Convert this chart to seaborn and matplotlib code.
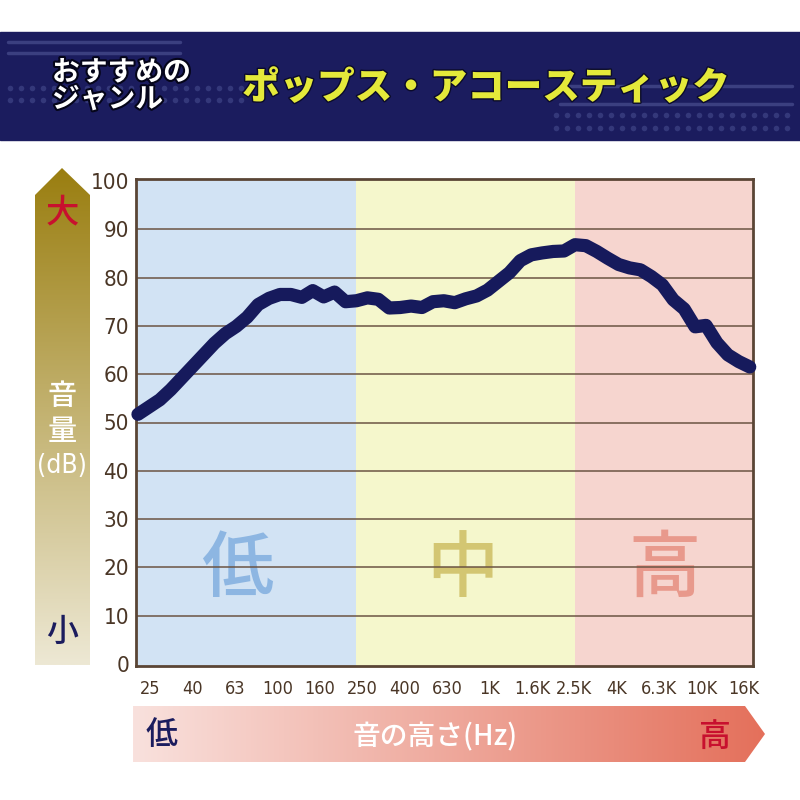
import numpy as np
import matplotlib
matplotlib.use("Agg")
import matplotlib.pyplot as plt
import matplotlib.patheffects as pe
from matplotlib.patches import Polygon
import seaborn as sns
import pandas as pd

# sound level (dB), read in 1/6-octave steps from 25 Hz to 16 kHz
levels = [51.7, 53.2, 54.7, 56.8, 59.2, 61.6, 64.0, 66.4, 68.4, 69.9,
          71.8, 74.4, 75.7, 76.5, 76.5, 75.9, 77.3, 76.0, 77.0, 75.0,
          75.2, 75.8, 75.5, 73.7, 73.8, 74.1, 73.8, 75.0, 75.2, 74.8,
          75.6, 76.2, 77.4, 79.2, 81.0, 83.5, 84.7, 85.1, 85.4, 85.5,
          86.8, 86.6, 85.4, 84.0, 82.7, 82.0, 81.6, 80.2, 78.5, 75.4,
          73.5, 69.8, 70.1, 66.5, 64.0, 62.6, 61.5]
steps = list(range(len(levels)))
freq_labels = ['25', '40', '63', '100', '160', '250', '400', '630', '1K',
               '1.6K', '2.5K', '4K', '6.3K', '10K', '16K']
y_ticks = list(range(0, 101, 10))
# bands: low / mid / high (in step units)
band_edges = [-0.2, 20, 40, 56.3]
band_names = ['低', '中', '高']
band_colors = ['#d2e3f4', '#f5f7cc', '#f6d5cf']
band_text_colors = ['#8db6e2', '#d3c672', '#e8998c']
band_text_x = [9.1, 29.7, 48.2]

genre_label = 'おすすめの\nジャンル'
genre = 'ポップス・アコースティック'

sns.set_style("white")
jp = ['Noto Sans CJK JP', 'DejaVu Sans']
plt.rcParams['font.family'] = jp

fig = plt.figure(figsize=(8, 8), dpi=100)
fig.patch.set_facecolor('white')

# background layer in pixel coordinates
bg = fig.add_axes([0, 0, 1, 1], zorder=0)
bg.set_xlim(0, 800)
bg.set_ylim(800, 0)
bg.axis('off')

# header
bg.add_patch(plt.Rectangle((0, 32), 800, 108, color='#1b1c5e', zorder=1))
for yy in [42, 53]:
    bg.plot([8, 180], [yy, yy], color='#3b3f80', lw=2.5, zorder=2)
for yy in [86, 104]:
    bg.plot([560, 792], [yy, yy], color='#3b3f80', lw=2.5, zorder=2)
dx = np.arange(10, 250, 11)
for yy in [88, 100]:
    bg.scatter(dx, [yy] * len(dx), s=16, color='#34387a', zorder=2, lw=0)
dx = np.arange(556, 792, 11)
for yy in [115, 128]:
    bg.scatter(dx, [yy] * len(dx), s=16, color='#34387a', zorder=2, lw=0)
bg.text(52, 86, genre_label, color='white', fontsize=20, fontweight='bold',
        va='center', ha='left', linespacing=0.95, zorder=3,
        path_effects=[pe.withStroke(linewidth=3, foreground='#05051a')])
bg.text(486, 88, genre, color='#e4e93a', fontsize=27, fontweight='black',
        va='center', ha='center', zorder=3,
        path_effects=[pe.withStroke(linewidth=2, foreground='#0b0b2a')])

# left arrow (volume)
def cmap_img(c1, c2, n, vertical):
    a = np.array(matplotlib.colors.to_rgb(c1))
    b = np.array(matplotlib.colors.to_rgb(c2))
    t = np.linspace(0, 1, n)[:, None]
    g = a + (b - a) * t
    return g[:, None, :] if vertical else g[None, :, :]

left_poly = Polygon([(35, 195), (62, 168), (90, 195), (90, 665), (35, 665)],
                    closed=True, transform=bg.transData)
im = bg.imshow(cmap_img('#9a7e10', '#ede8d4', 256, True), extent=(35, 90, 665, 168),
               origin='upper', aspect='auto', zorder=1)
im.set_clip_path(left_poly)
bg.text(62, 213, '大', color='#c8102e', fontsize=24, fontweight='medium',
        ha='center', va='center', zorder=3)
bg.text(62, 414, '音\n量', color='white', fontsize=21, fontweight='medium',
        ha='center', va='center', linespacing=1.15, zorder=3)
bg.text(62, 466, '(dB)', color='white', fontsize=19, fontweight='medium',
        family='DejaVu Sans', stretch='condensed', ha='center', va='center', zorder=3)
bg.text(62, 632, '小', color='#1b1c5e', fontsize=23, fontweight='medium',
        ha='center', va='center', zorder=3)

# bottom arrow (pitch)
bot_poly = Polygon([(133, 706), (745, 706), (765, 734), (745, 762), (133, 762)],
                   closed=True, transform=bg.transData)
im2 = bg.imshow(cmap_img('#f9e1dd', '#e4705b', 256, False), extent=(133, 765, 762, 706),
                origin='upper', aspect='auto', zorder=1)
im2.set_clip_path(bot_poly)
bg.text(162, 735, '低', color='#1b1c5e', fontsize=23, fontweight='medium',
        ha='center', va='center', zorder=3)
bg.text(435, 737, '音の高さ(Hz)', color='white', fontsize=20, fontweight='medium',
        ha='center', va='center', zorder=3)
bg.text(715, 737, '高', color='#c8102e', fontsize=23, fontweight='medium',
        ha='center', va='center', zorder=3)

# main chart
ax = fig.add_axes([136 / 800, 1 - 666 / 800, 617 / 800, 487 / 800], zorder=2)
for i in range(3):
    ax.axvspan(band_edges[i], band_edges[i + 1], color=band_colors[i], lw=0, zorder=0)
    ax.text(band_text_x[i], 19.5, band_names[i], color=band_text_colors[i],
            fontsize=52, fontweight='medium', ha='center', va='center', zorder=1)
for yv in y_ticks[1:-1]:
    ax.axhline(yv, color='#6b5443', lw=1.1, zorder=2)

df = pd.DataFrame({'step': steps, 'level': levels})
sns.lineplot(data=df, x='step', y='level', ax=ax, color='#161a5c', lw=9.5,
             solid_joinstyle='round', solid_capstyle='round', zorder=3, clip_on=False)

ax.set_xlim(-0.18, 56.3)
ax.set_ylim(-0.4, 100.4)
ax.set_yticks(y_ticks)
ax.set_yticklabels([str(v) for v in y_ticks], family='DejaVu Sans', stretch='condensed',
                   fontsize=16, color='#4a3626')
ax.set_xticks(np.linspace(1.1, 55.5, len(freq_labels)))
ax.set_xticklabels(freq_labels, family='DejaVu Sans', stretch='condensed',
                   fontsize=13, color='#4a3626')
ax.tick_params(axis='both', length=0)
ax.tick_params(axis='y', pad=5)
ax.tick_params(axis='x', pad=10)
ax.set_xlabel('')
ax.set_ylabel('')
for s in ax.spines.values():
    s.set_color('#5a4535')
    s.set_linewidth(2)
    s.set_visible(True)

fig.savefig('out.png', dpi=100)
